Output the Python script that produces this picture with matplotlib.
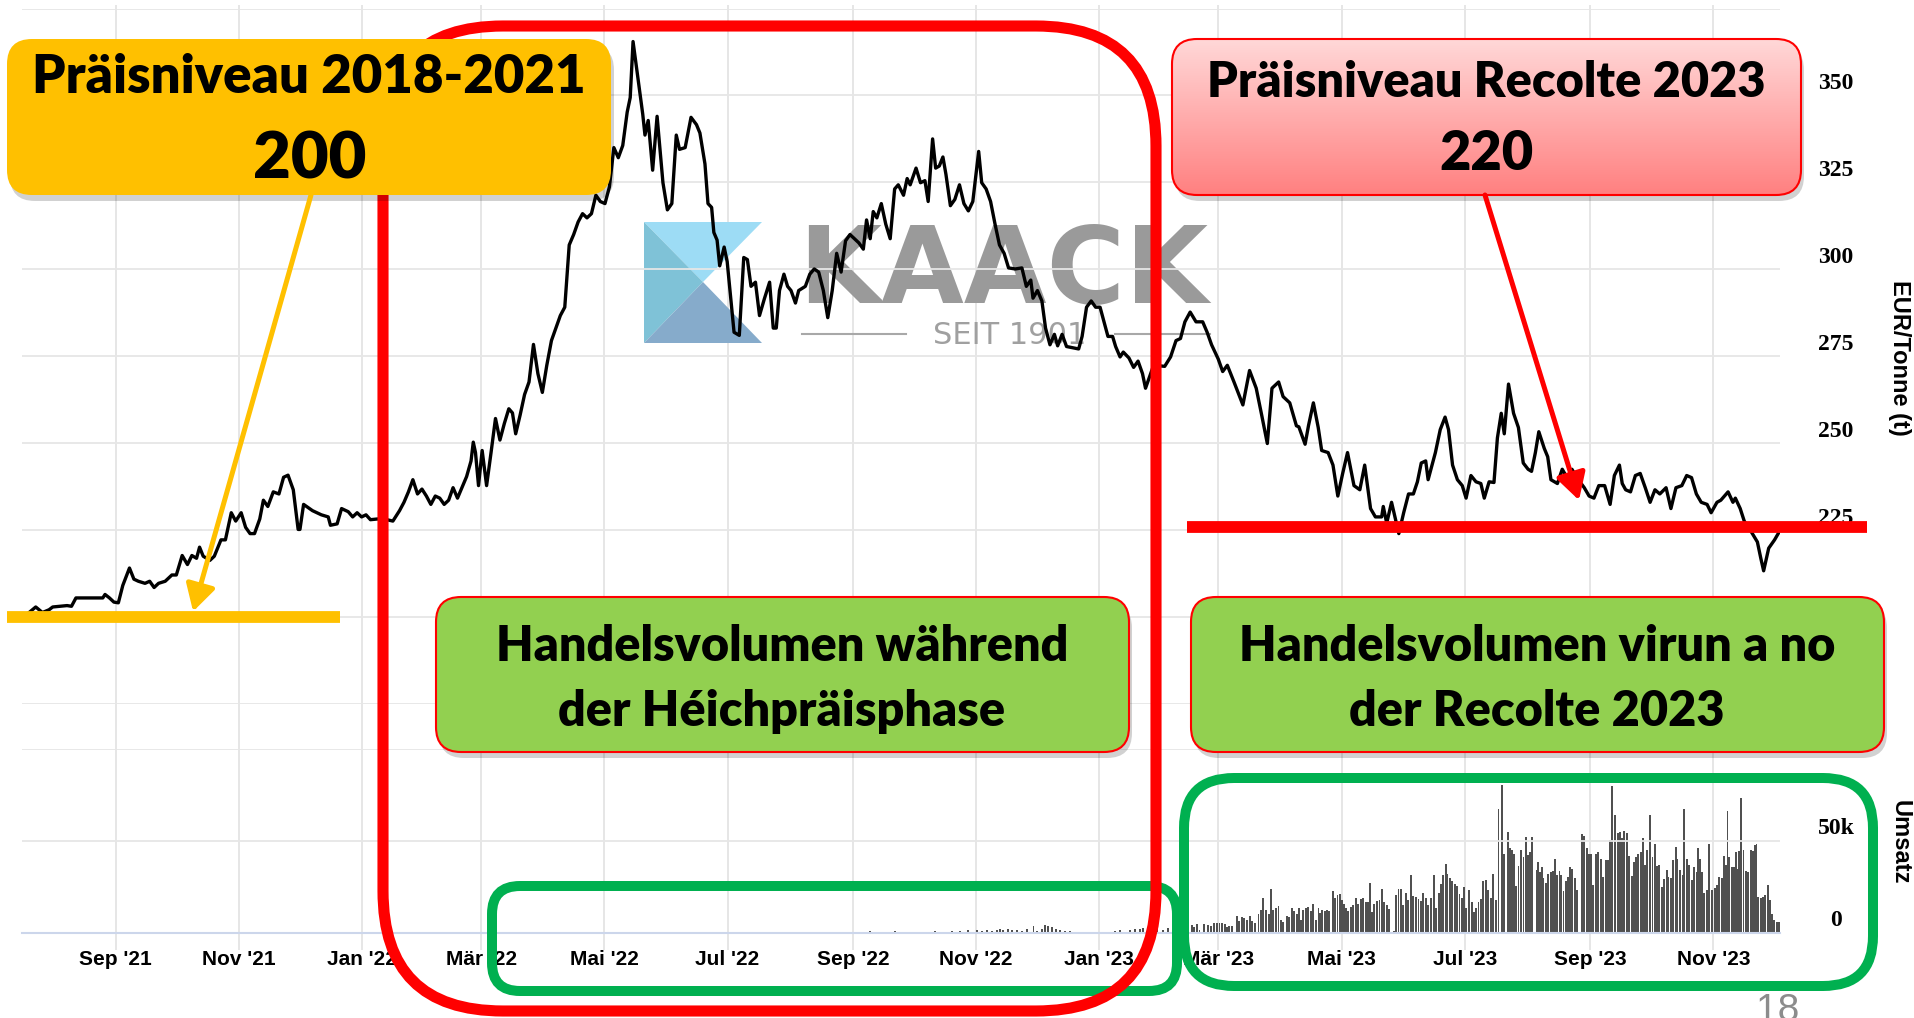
import matplotlib
matplotlib.use('Agg')
import matplotlib.pyplot as plt
from matplotlib.patches import FancyBboxPatch, Polygon
from matplotlib.colors import LinearSegmentedColormap
from matplotlib.transforms import offset_copy
import numpy as np
import pandas as pd

W, H = 1915, 1018
ORIGIN = pd.Timestamp('2021-09-01')

# price: days after 1 Sep 2021 / EUR per tonne
price_day = [-42.8, -39.5, -36.2, -32.9, -31.1, -27.3, -24.0, -21.8, -19.6, -13.0, -6.3, -5.2, -3.0, -0.8,
             1.4, 3.6, 6.9, 9.1, 11.3, 14.6, 16.9, 19.1, 21.3, 24.6, 27.9, 30.1, 33.0, 35.6, 37.8, 40.1,
             41.6, 43.4, 46.7, 48.9, 52.2, 54.4, 57.3, 59.5, 62.2, 64.4, 66.6, 68.8, 71.4, 73.2, 75.4,
             78.1, 80.9, 83.2, 85.4, 88.0, 90.4, 91.3, 93.1, 97.5, 101.9, 105.3, 106.4, 109.7, 111.9,
             115.2, 117.4, 119.6, 121.8, 124.0, 126.2, 129.6, 132.9, 137.3, 140.6, 142.8, 145.0, 147.2,
             149.5, 151.7, 153.9, 156.1, 158.3, 160.5, 162.7, 164.9, 167.1, 169.3, 171.5, 173.8, 176.0,
             177.1, 178.2, 179.7, 181.5, 183.7, 185.9, 188.1, 190.3, 192.5, 194.7, 196.5, 198.1, 200.3,
             202.5, 204.7, 206.9, 209.1, 211.3, 213.5, 215.8, 218.0, 220.2, 222.4, 224.6, 226.8, 229.0,
             231.2, 233.4, 235.6, 237.8, 240.0, 242.3, 244.5, 246.7, 248.9, 251.1, 253.3, 254.8, 256.2,
             258.8, 261.0, 262.1, 263.7, 265.9, 268.1, 271.0, 273.2, 275.4, 277.6, 279.2, 282.0, 284.9,
             287.6, 289.3, 291.8, 293.3, 295.1, 296.2, 297.8, 299.1, 301.3, 302.8, 305.0, 306.2, 308.8,
             311.0, 312.8, 314.6, 316.8, 318.8, 321.2, 323.8, 325.6, 327.1, 328.7, 330.9, 332.7, 334.4,
             336.6, 338.2, 341.5, 343.7, 345.9, 348.1, 350.4, 352.6, 354.8, 357.0, 359.2, 361.4, 363.6,
             365.8, 368.0, 370.2, 371.8, 373.6, 375.1, 376.9, 379.1, 381.3, 383.5, 385.7, 387.5, 390.1,
             391.9, 393.4, 396.3, 398.5, 400.7, 402.3, 404.5, 406.0, 407.8, 409.6, 411.1, 413.3, 415.5,
             417.8, 420.0, 422.2, 424.4, 427.3, 428.8, 431.0, 433.2, 435.4, 437.6, 439.9, 442.1, 445.4,
             448.7, 450.9, 453.1, 454.2, 456.4, 458.6, 460.4, 462.6, 464.8, 466.4, 468.6, 470.8, 474.1,
             476.8, 478.5, 480.7, 483.0, 485.2, 487.4, 489.6, 491.3, 493.6, 495.1, 497.3, 498.9, 501.7,
             504.0, 506.2, 508.4, 509.9, 511.7, 513.9, 519.4, 522.3, 525.0, 527.2, 529.4, 532.0, 534.9,
             538.2, 540.4, 542.6, 545.9, 548.1, 550.4, 553.7, 558.1, 561.4, 564.7, 567.4, 570.2, 572.5,
             575.8, 578.0, 581.3, 584.6, 585.8, 588.9, 590.6, 593.0, 595.4, 597.1, 600.3, 602.7, 605.1,
             607.5, 609.9, 613.1, 616.0, 618.4, 621.3, 623.7, 626.8, 627.6, 629.3, 631.7, 633.4, 635.3,
             637.7, 640.1, 642.5, 644.5, 646.4, 648.6, 649.8, 653.4, 655.8, 658.2, 659.9, 661.9, 664.3,
             666.7, 668.6, 671.0, 673.5, 675.9, 677.6, 680.0, 682.4, 684.1, 686.0, 687.5, 689.6, 692.1,
             694.5, 696.9, 699.3, 701.0, 702.9, 704.6, 707.3, 709.0, 710.6, 713.8, 716.2, 718.6, 721.0,
             723.4, 727.1, 729.5, 731.9, 734.3, 737.2, 739.9, 742.0, 744.5, 745.9, 747.6, 750.0, 752.4,
             754.8, 757.3, 759.7, 762.1, 764.5, 767.6, 770.0, 772.5, 775.4, 777.8, 780.2, 782.6, 785.0,
             787.9, 789.9, 792.8, 794.7, 798.3, 800.7, 801.9, 804.3, 806.3, 809.7, 812.8, 814.5, 815.9,
             818.4, 821.3, 823.7]
price = [201.3, 202.9, 201.3, 202.1, 202.9, 203.1, 203.3, 203.1, 205.5, 205.5, 205.5, 206.5, 205.5, 204.3,
         204.1, 209.1, 214.1, 210.9, 210.3, 209.7, 210.3, 208.5, 209.7, 210.3, 212.1, 212.1, 217.7, 215.1,
         217.7, 216.9, 220.1, 217.5, 216.3, 217.5, 222.2, 222.2, 230.0, 227.6, 230.0, 225.8, 224.0, 224.0,
         228.2, 233.6, 231.8, 236.0, 235.4, 240.2, 240.8, 236.6, 225.2, 225.2, 232.4, 230.6, 229.4, 228.8,
         226.4, 226.8, 231.2, 230.3, 228.8, 230.0, 228.8, 229.4, 228.0, 228.2, 228.2, 227.6, 230.6, 233.0,
         236.0, 239.5, 235.4, 236.8, 234.8, 232.4, 234.8, 234.2, 232.4, 233.6, 237.2, 234.2, 237.2, 240.4,
         244.9, 250.3, 247.3, 237.8, 247.9, 237.8, 247.3, 257.1, 250.9, 255.7, 259.9, 258.7, 252.7, 258.1,
         264.0, 267.6, 278.4, 270.0, 264.6, 272.4, 279.5, 283.1, 286.7, 289.1, 307.0, 310.0, 313.6, 316.0,
         314.8, 316.0, 321.3, 319.5, 318.9, 323.7, 335.0, 332.1, 335.6, 345.2, 349.4, 365.5, 354.2, 344.6,
         338.6, 342.8, 328.5, 344.0, 324.9, 317.1, 318.9, 338.6, 334.5, 335.0, 343.7, 341.6, 339.2, 330.3,
         318.9, 317.8, 310.6, 308.4, 301.0, 306.4, 302.2, 289.1, 281.9, 281.0, 303.4, 302.8, 295.1, 296.3,
         286.7, 291.5, 296.3, 283.1, 283.1, 293.9, 298.6, 295.1, 293.9, 290.3, 293.9, 295.1, 298.6, 300.1,
         299.2, 293.9, 286.1, 293.9, 304.6, 299.2, 308.2, 310.0, 308.8, 307.6, 305.8, 314.2, 308.8, 316.6,
         314.8, 318.9, 313.0, 308.8, 323.1, 324.3, 321.3, 326.1, 324.3, 329.1, 324.9, 325.5, 319.5, 337.5,
         329.1, 329.7, 332.3, 327.3, 318.3, 320.1, 324.3, 318.9, 316.8, 319.5, 333.9, 324.9, 323.1, 319.5,
         313.0, 307.0, 304.6, 300.4, 300.1, 300.4, 295.1, 296.9, 291.7, 293.9, 290.9, 283.1, 278.3, 281.3,
         278.0, 281.3, 277.8, 277.4, 277.1, 280.7, 289.1, 290.9, 289.1, 289.1, 284.3, 280.7, 280.7, 277.8,
         274.8, 276.2, 274.5, 271.8, 273.6, 270.0, 265.8, 268.8, 272.4, 272.1, 274.8, 279.5, 280.1, 284.9,
         287.7, 284.9, 284.9, 281.9, 278.3, 274.2, 270.6, 272.4, 267.6, 261.0, 270.9, 265.8, 258.1, 249.9,
         265.8, 267.6, 263.4, 261.6, 255.0, 254.7, 249.7, 255.1, 261.6, 254.5, 247.9, 247.3, 243.7, 234.8,
         241.3, 247.3, 237.8, 236.6, 243.7, 231.2, 228.8, 228.8, 231.8, 227.0, 233.0, 228.8, 224.0, 230.0,
         235.4, 235.4, 238.9, 244.3, 244.9, 239.5, 247.3, 253.9, 257.5, 253.9, 243.7, 239.5, 237.8, 234.2,
         240.7, 238.9, 238.4, 234.2, 238.9, 238.7, 251.5, 258.6, 252.7, 267.0, 258.6, 254.5, 244.3, 242.5,
         241.9, 247.3, 253.3, 248.5, 246.1, 239.5, 238.4, 242.5, 240.1, 242.5, 240.1, 237.2, 234.8, 234.2,
         237.8, 237.8, 232.4, 240.7, 243.7, 238.4, 236.6, 236.0, 240.7, 241.3, 237.2, 233.0, 236.6, 235.4,
         237.2, 231.2, 237.2, 237.8, 240.7, 240.1, 235.4, 233.0, 232.4, 230.0, 233.0, 233.6, 236.0, 233.0,
         234.2, 231.2, 227.6, 224.6, 221.6, 216.9, 213.3, 219.8, 222.2, 224.6]

# traded volume (thousands), days after 1 Sep 2021
vol_day = [272.5, 274.5, 277.5, 309.0, 326.5, 329.5, 351.7, 356.0, 364.0, 370.5, 373.5, 378.5, 383.4, 386.0,
           391.0, 395.8, 400.7, 405.7, 410.6, 414.0, 418.0, 422.0, 426.3, 428.8, 431.3, 433.8, 436.2, 437.9,
           439.5, 442.0, 443.7, 446.1, 448.6, 451.1, 454.4, 456.3, 458.5, 460.1, 461.8, 463.5, 465.6, 467.6,
           470.0, 472.5, 475.0, 480.0, 491.5, 494.8, 497.3, 499.8, 502.2, 504.7, 507.2, 508.8, 512.1, 515.4,
           518.7, 521.2, 523.7, 528.6, 531.1,
           532.8, 533.9, 535.2, 536.6, 539.0, 541.0, 542.2, 543.8, 545.1, 546.5, 547.9, 549.1, 550.1, 551.4,
           552.6, 555.0, 556.0, 557.5, 558.7, 560.3, 561.6, 562.8, 564.1, 565.8, 566.9, 568.2, 569.6, 570.9,
           572.0, 573.2, 574.3, 575.7, 576.8, 578.1, 579.8, 581.1, 582.3, 583.6, 584.7, 585.9, 586.7, 588.0,
           589.2, 590.5, 591.7, 592.7, 594.1, 595.5, 596.4, 597.4, 598.8, 599.9, 600.9, 602.6, 603.7, 604.9,
           606.2, 607.0, 608.2, 609.2, 610.3, 611.6, 612.8, 613.9, 615.2, 616.4, 617.7, 618.9, 619.9, 621.0,
           622.2, 623.2, 624.3, 625.7, 626.8, 628.1, 629.3, 630.6, 632.9, 633.9, 635.1, 636.4, 637.5, 638.9,
           640.0, 641.2, 642.5, 643.6, 645.0, 646.3, 647.4, 648.6, 649.9, 651.1, 652.7, 653.7, 655.0, 656.0,
           657.3, 658.5, 659.3, 660.6, 661.8, 663.1, 664.3, 665.3, 666.4, 667.6, 668.6, 670.2, 671.4, 672.5,
           673.5, 674.7, 676.0, 677.1,
           678.5, 679.3, 680.8, 681.8, 683.4, 684.6, 686.2, 687.4, 689.2, 690.4, 691.5, 692.3, 693.2, 694.5,
           695.8, 697.0, 698.1, 699.1, 700.2, 701.4, 703.5, 704.4, 705.2, 706.0, 706.9, 708.2, 709.3, 710.5,
           711.8, 712.6, 713.8, 714.8, 715.6, 716.8, 717.9, 719.2, 720.0, 721.2, 722.5, 723.5, 725.8, 727.0,
           728.3, 729.5, 730.4, 731.6, 732.9, 734.1, 735.2, 736.5, 737.9, 739.0, 739.8, 741.0, 742.3, 743.6,
           744.8, 745.6, 746.9, 748.1, 749.4, 750.6, 751.7, 752.7, 753.9, 755.0, 756.0, 757.2, 758.3, 759.6,
           760.9, 762.1, 763.0, 764.1, 765.4, 766.7, 767.9, 768.7, 769.9, 771.2, 772.4, 773.3, 774.5, 775.7,
           776.6, 777.8, 779.0, 780.3, 781.4, 782.7, 783.6, 784.4, 785.2, 786.5, 787.7, 789.0, 790.2, 791.8,
           793.0, 794.0, 795.1, 796.3, 797.1, 798.0, 798.9, 800.1, 801.1, 802.1, 803.0, 803.9, 804.7, 805.9,
           807.0, 808.3, 809.5, 810.5, 811.6, 812.4, 813.3, 814.4, 815.4, 816.6, 817.9, 819.0, 819.9, 821.2,
           822.4, 823.5]
volume_k = [0.5, 0.4, 0.5, 0.4, 0.5, 0.4, 0.6, 0.5, 0.8, 0.6, 0.9, 0.7, 0.8, 1.0,
            0.6, 0.8, 0.7, 1.0, 0.8, 1.2, 0.9, 1.4, 1.5, 1.2, 1.5, 1.0, 1.8, 2.0,
            1.5, 2.2, 1.5, 1.8, 1.0, 2.0, 4.0, 1.2, 2.2, 4.2, 4.0, 3.0, 2.2, 1.5,
            1.0, 1.2, 0.8, 0.8, 0.8, 1.2, 1.5, 0.8, 1.5, 2.0, 2.0, 2.5, 1.5, 2.2,
            1.8, 2.5, 1.2, 1.5, 2.5,
            4.4, 3.1, 4.9, 1.6, 4.9, 4.4, 4.0, 5.3, 5.3, 5.3, 5.3, 4.9, 3.1, 4.0,
            4.0, 9.3, 6.4, 8.6, 8.0, 7.3, 9.3, 6.4, 5.3, 10.4, 12.6, 19.0, 12.6, 10.4,
            24.1, 12.6, 13.5, 14.8, 7.3, 6.2, 9.1, 8.6, 13.5, 11.7, 10.4, 13.5, 7.3, 12.6,
            13.5, 13.9, 12.2, 15.5, 7.3, 13.5, 11.0, 12.6, 11.9, 12.6, 11.7, 22.8, 19.0, 20.4,
            21.0, 17.7, 15.5, 13.5, 11.9, 14.4, 15.3, 19.0, 15.9, 18.6, 19.0, 16.8, 16.8, 27.2,
            11.3, 15.9, 17.2, 17.7, 24.1, 16.8, 15.0, 13.1, 0.9, 20.8, 24.1, 24.1, 15.3, 21.7,
            17.7, 31.4, 19.9, 19.5, 18.6, 17.2, 21.7, 19.0, 15.0, 19.0, 31.4, 13.7, 21.7, 26.8,
            31.4, 37.4, 32.3, 30.1, 28.1, 26.8, 25.4, 21.4, 19.0, 25.0, 13.5, 23.2, 16.8, 11.3,
            13.7, 16.8, 18.6, 28.1,
            28.7, 23.2, 19.0, 31.8, 17.7, 67.4, 80.7, 42.9, 54.8, 46.0, 45.1, 42.9, 25.4, 36.3,
            45.1, 41.1, 52.4, 42.3, 44.2, 52.4, 34.5, 38.7, 33.2, 35.6, 30.1, 27.2, 32.3, 33.2,
            33.8, 40.0, 31.4, 33.8, 31.4, 22.8, 28.1, 30.5, 35.6, 34.7, 30.1, 23.2, 53.7, 52.9,
            46.4, 42.9, 42.9, 25.9, 42.7, 44.2, 40.0, 30.5, 39.6, 39.6, 50.6, 79.8, 64.3, 54.2,
            54.8, 51.5, 55.5, 54.6, 41.8, 30.8, 38.7, 41.4, 42.9, 44.2, 51.5, 36.9, 45.1, 63.9,
            41.1, 48.2, 36.5, 36.9, 25.0, 29.6, 34.5, 30.5, 29.9, 39.6, 46.9, 40.0, 34.1, 31.4,
            67.4, 40.0, 36.9, 28.7, 35.6, 33.2, 46.0, 40.0, 33.2, 21.7, 23.2, 48.4, 23.2, 24.6,
            26.3, 30.5, 30.1, 42.0, 37.2, 66.1, 41.1, 36.0, 35.6, 44.2, 35.0, 44.7, 73.4, 45.1,
            33.6, 33.2, 45.1, 44.7, 47.8, 48.4, 19.5, 19.2, 19.5, 20.8, 25.9, 17.7, 10.4, 6.8,
            5.8, 5.8]

tick_dates = ['2021-09-01', '2021-11-01', '2022-01-01', '2022-03-01', '2022-05-01', '2022-07-01',
              '2022-09-01', '2022-11-01', '2023-01-01', '2023-03-01', '2023-05-01', '2023-07-01',
              '2023-09-01', '2023-11-01']
tick_labels = ["Sep '21", "Nov '21", "Jan '22", "Mär '22", "Mai '22", "Jul '22", "Sep '22", "Nov '22",
               "Jan '23", "Mär '23", "Mai '23", "Jul '23", "Sep '23", "Nov '23"]
tick_days = [(pd.Timestamp(d) - ORIGIN).days for d in tick_dates]

price_ticks = [175, 200, 225, 250, 275, 300, 325, 350, 375]
vol_ticks = [0, 50, 100]
vol_tick_labels = ['0', '50k']

# annotation levels / arrow targets (in price-axis units)
old_level = 200
new_level = 225.8

XMIN, XMAX = -46.3, 824.0
GRID = '#e6e6e6'
BOLD = dict(family='Lato', fontweight='heavy', color='black')


def fx(px):
    return px / W


def fy(py):
    return 1 - py / H


fig = plt.figure(figsize=(W / 100, H / 100), dpi=100)
L, R = fx(22), fx(1780)

# vertical grid, running through both panes and down to the labels
ax_v = fig.add_axes([L, fy(950), R - L, fy(5) - fy(950)], zorder=0)
ax_v.set_xlim(XMIN, XMAX)
ax_v.axis('off')
for d in tick_days:
    ax_v.axvline(d, color=GRID, lw=1.4)

# watermark logo
ax_logo = fig.add_axes([0, 0, 1, 1], zorder=0.5)
ax_logo.set_xlim(0, W)
ax_logo.set_ylim(H, 0)
ax_logo.axis('off')
TL, TR, BL, BR, C = (644, 222), (762, 222), (644, 343), (762, 343), (703, 282)
ax_logo.add_patch(Polygon([TL, TR, C], closed=True, fc='#9ddcf5', ec='none'))
ax_logo.add_patch(Polygon([TL, C, BL], closed=True, fc='#7fc2d7', ec='none'))
ax_logo.add_patch(Polygon([BL, C, BR], closed=True, fc='#86abcb', ec='none'))
ax_logo.text(798, 303, 'KAACK', fontsize=77, fontweight='bold', family='DejaVu Sans',
             color='#9a9a9a', ha='left', va='baseline')
ax_logo.plot([802, 906], [334, 334], color='#a8a8a8', lw=1.5)
ax_logo.plot([1115, 1210], [334, 334], color='#a8a8a8', lw=1.5)
ax_logo.text(1010, 335, 'SEIT 1901', fontsize=22, family='DejaVu Sans',
             color='#a0a0a0', ha='center', va='center')

# price pane
ax_p = fig.add_axes([L, fy(704), R - L, fy(8.5) - fy(704)], zorder=1)
ax_p.set_facecolor('none')
ax_p.plot(price_day, price, color='black', lw=2.4)
ax_p.set_xlim(XMIN, XMAX)
ax_p.set_ylim(175, 375)
ax_p.set_yticks(price_ticks)
ax_p.set_xticks([])
ax_p.grid(axis='y', color=GRID, lw=1.3)
ax_p.tick_params(left=False, labelleft=False)
for s in ax_p.spines.values():
    s.set_visible(False)
lab_tr = offset_copy(ax_p.get_yaxis_transform(), fig=fig, x=56, y=12, units='dots')
for v in price_ticks[:-1]:
    ax_p.text(1, v, str(v), transform=lab_tr, ha='center', va='center', fontsize=17,
              fontweight='bold', family='Liberation Serif', clip_on=False)

# volume pane
ax_vol = fig.add_axes([L, fy(933), R - L, fy(749) - fy(933)], zorder=1)
ax_vol.set_facecolor('none')
ax_vol.bar(vol_day, volume_k, width=0.9, color='#505050', linewidth=0)
ax_vol.set_xlim(XMIN, XMAX)
ax_vol.set_ylim(0, 100)
ax_vol.set_yticks(vol_ticks)
ax_vol.grid(axis='y', color=GRID, lw=1.3)
ax_vol.set_xticks(tick_days, tick_labels)
ax_vol.tick_params(axis='x', length=0, pad=12)
ax_vol.tick_params(axis='y', left=False, labelleft=False)
for lab in ax_vol.get_xticklabels():
    lab.set_fontsize(15)
    lab.set_fontweight('bold')
    lab.set_family('Liberation Sans')
for k, s in ax_vol.spines.items():
    s.set_visible(k == 'bottom')
ax_vol.spines['bottom'].set_color('#ccd6eb')
ax_vol.spines['bottom'].set_linewidth(1.5)
vlab_tr = offset_copy(ax_vol.get_yaxis_transform(), fig=fig, x=56, y=12, units='dots')
for v, t in zip(vol_ticks, vol_tick_labels):
    ax_vol.text(1, v, t, transform=vlab_tr, ha='center', va='center', fontsize=17,
                fontweight='bold', family='Liberation Serif', clip_on=False)

# overlay with the slide annotations (pixel coordinates)
ax_ov = fig.add_axes([0, 0, 1, 1], zorder=3)
ax_ov.set_facecolor('none')
ax_ov.axis('off')


def rbox(x, y, w, h, r, z, **kw):
    p = FancyBboxPatch((x, y), w, h, boxstyle=f'round,pad=0,rounding_size={r}', zorder=z, **kw)
    ax_ov.add_patch(p)
    return p


def shadow(x, y, w, h, r):
    rbox(x + 3, y + 6, w, h, r, 3.8, fc='black', ec='none', alpha=0.18)


# frames around the two volume periods and the high-price phase
rbox(492, 886, 685, 105, 28, 2, fc='none', ec='#00b050', lw=7.2)
rbox(1184, 778, 689, 208, 50, 2, fc='none', ec='#00b050', lw=7.2)
rbox(383, 26, 773, 985, 120, 3, fc='none', ec='#ff0000', lw=8)

# text boxes
shadow(7, 39, 604, 156, 25)
rbox(7, 39, 604, 156, 25, 4, fc='#ffc000', ec='none')
ax_ov.text(309, 93, 'Präisniveau 2018-2021', ha='center', va='baseline', fontsize=38, zorder=6, **BOLD)
ax_ov.text(310, 178, '200', ha='center', va='baseline', fontsize=47, zorder=6, **BOLD)

shadow(1172, 39, 629, 156, 25)
pink = rbox(1172, 39, 629, 156, 25, 4.2, fc='none', ec='#ff0000', lw=1.5)
cmap = LinearSegmentedColormap.from_list('pinkgrad', ['#ffd8d8', '#ff8080'])
im = ax_ov.imshow(np.linspace(0, 1, 256).reshape(-1, 1), cmap=cmap, extent=[1172, 1801, 195, 39],
                  aspect='auto', zorder=4.1, interpolation='bilinear')
im.set_clip_path(pink)
ax_ov.text(1486, 97, 'Präisniveau Recolte 2023', ha='center', va='baseline', fontsize=35, zorder=6, **BOLD)
ax_ov.text(1487, 170, '220', ha='center', va='baseline', fontsize=39, zorder=6, **BOLD)

for x0, lines in [(436, ['Handelsvolumen während', 'der Héichpräisphase']),
                  (1191, ['Handelsvolumen virun a no', 'der Recolte 2023'])]:
    shadow(x0, 597, 693, 155, 25)
    rbox(x0, 597, 693, 155, 25, 4, fc='#92d050', ec='#ff0000', lw=1.5)
    ax_ov.text(x0 + 346, 661, lines[0], ha='center', va='baseline', fontsize=35, zorder=6, **BOLD)
    ax_ov.text(x0 + 346, 726, lines[1], ha='center', va='baseline', fontsize=35, zorder=6, **BOLD)

# price levels and arrows (drawn in price-axis units)
ax_ov.plot([-53.7, 111.1], [old_level, old_level], transform=ax_p.transData, color='#ffc000',
           lw=8.5, solid_capstyle='butt', zorder=5)
ax_ov.plot([530.4, 867.0], [new_level, new_level], transform=ax_p.transData, color='#ff0000',
           lw=8.5, solid_capstyle='butt', zorder=5)
ax_ov.annotate('', xy=(38.4, 201.6), xycoords=ax_p.transData, xytext=(311, 195), textcoords='data',
               arrowprops=dict(arrowstyle='-|>,head_length=0.8,head_width=0.45', color='#ffc000',
                               lw=3.6, shrinkA=0, shrinkB=0, mutation_scale=20), zorder=5)
ax_ov.annotate('', xy=(724.5, 233.6), xycoords=ax_p.transData, xytext=(1485, 195), textcoords='data',
               arrowprops=dict(arrowstyle='-|>,head_length=0.8,head_width=0.45', color='#ff0000',
                               lw=3.6, shrinkA=0, shrinkB=0, mutation_scale=20), zorder=5)

# axis titles and slide number
ax_ov.text(1900, 358, 'EUR/Tonne (t)', rotation=270, ha='center', va='center', fontsize=17,
           fontweight='bold', family='Liberation Sans')
ax_ov.text(1900, 842, 'Umsatz', rotation=270, ha='center', va='center', fontsize=17,
           fontweight='bold', family='Liberation Sans')
ax_ov.text(1778, 993, '18', ha='center', va='top', fontsize=28, color='#8c8c8c', family='Liberation Sans')

ax_ov.set_xlim(0, W)
ax_ov.set_ylim(H, 0)

fig.savefig('out.png', dpi=100)
